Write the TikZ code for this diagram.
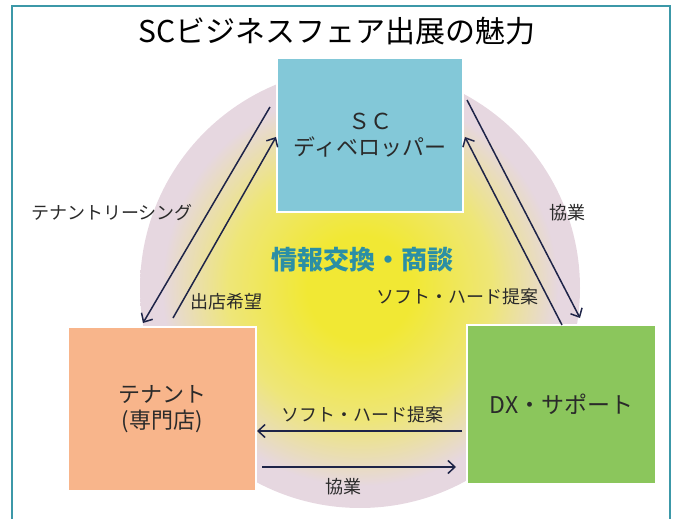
\documentclass[tikz,border=0pt]{standalone}
\usepackage{fontspec}
\setmainfont{Noto Sans CJK JP}
\usetikzlibrary{arrows.meta}

\definecolor{framecol}{HTML}{3C98A8}
\definecolor{sccol}{HTML}{83C8D8}
\definecolor{tenantcol}{HTML}{F8B58B}
\definecolor{dxcol}{HTML}{8BC65C}
\definecolor{glowin}{HTML}{F1E834}
\definecolor{glowmid}{HTML}{EEE678}
\definecolor{glowout}{HTML}{E6D7E0}
\definecolor{arrowcol}{HTML}{1E2448}
\definecolor{talkcol}{HTML}{2B8FA5}
\definecolor{textcol}{HTML}{2A2A2A}

\pgfdeclareradialshading{fairglow}{\pgfpoint{0bp}{0bp}}{color(0bp)=(glowin); color(6bp)=(glowin); color(15bp)=(glowmid); color(22.5bp)=(glowout); color(25bp)=(glowout); color(50bp)=(glowout)}

\tikzset{
  partybox/.style={draw=white, line width=2pt, inner sep=0pt, text=textcol,
    font=\fontsize{22}{26}\selectfont, align=center},
  flow/.style={arrowcol, line width=1.5pt, -{Straight Barb[length=7pt,width=13pt]}},
  flowlabel/.style={text=textcol, font=\fontsize{18}{20}\selectfont, inner sep=0pt},
}

\begin{document}
\begin{tikzpicture}[x=1pt,y=-1pt]
\useasboundingbox (0,0) rectangle (673,519);
% BACKGROUND
\draw[framecol, line width=2pt] (12,519) -- (12,6) -- (670,6) -- (670,519);
\shade[shading=fairglow] (360,288) circle [radius=220pt];
\node (title) at (337,31) {\fontsize{30}{32}\selectfont SCビジネスフェア出展の魅力};

% NODES
\node[partybox, fill=sccol, minimum width=186pt, minimum height=154pt] (sc) at (370,135)
  {ＳＣ\\ディベロッパー};
\node[partybox, fill=tenantcol, minimum width=188pt, minimum height=164pt] (tenant) at (162,409)
  {テナント\\(専門店)};
\node[partybox, fill=dxcol, minimum width=189pt, minimum height=159pt] (dx) at (561.5,404.5)
  {\fontsize{23}{26}\selectfont DX・サポート};

\node[text=talkcol, font=\fontsize{26}{28}\selectfont\bfseries] (talk) at (362,260) {情報交換・商談};

% ARROW ENDS
\coordinate (lease1) at (270,107);
\coordinate (lease2) at (143,323);
\coordinate (hope1) at (173,318);
\coordinate (hope2) at (276,137);
\coordinate (coop1) at (467,100);
\coordinate (coop2) at (580,318);
\coordinate (offer1) at (562,325);
\coordinate (offer2) at (465,137);
\coordinate (dxoffer1) at (462,431);
\coordinate (dxoffer2) at (257,431);
\coordinate (dxcoop1) at (262,467);
\coordinate (dxcoop2) at (456,467);

% CONNECTIONS
\draw[flow] (lease1) -- (lease2);
\draw[flow] (hope1) -- (hope2);
\draw[flow] (coop1) -- (coop2);
\draw[flow] (offer1) -- (offer2);
\draw[flow] (dxoffer1) -- (dxoffer2);
\draw[flow] (dxcoop1) -- (dxcoop2);

% NODE NAMES
\node[flowlabel] (leasetxt) at (112,213) {テナントリーシング};
\node[flowlabel] (hopetxt) at (226,302) {出店希望};
\node[flowlabel] (cooptxt) at (567,213) {協業};
\node[flowlabel] (offertxt) at (457,297) {ソフト・ハード提案};
\node[flowlabel] (dxoffertxt) at (362,415) {ソフト・ハード提案};
\node[flowlabel] (dxcooptxt) at (343,487) {協業};
\end{tikzpicture}
\end{document}
